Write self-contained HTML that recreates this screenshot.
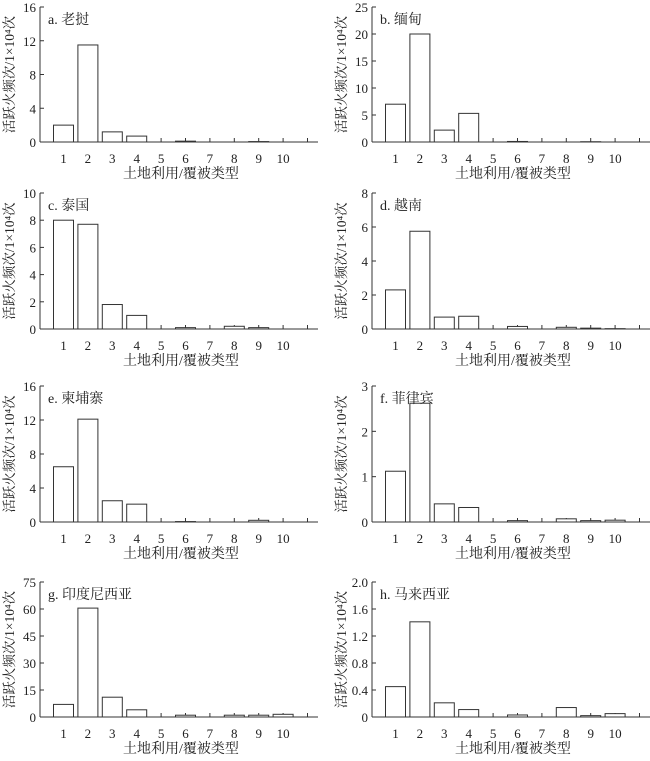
<!DOCTYPE html>
<html><head><meta charset="utf-8"><style>
body{margin:0;background:#fff}
svg text{font-family:"Liberation Serif","Noto Serif CJK SC",serif;fill:#222}
</style></head><body>
<svg id="c" width="650" height="756" xmlns="http://www.w3.org/2000/svg"></svg>
<script>
const categories=["1","2","3","4","5","6","7","8","9","10"];
const titles=["a. 老挝","b. 缅甸","c. 泰国","d. 越南","e. 柬埔寨","f. 菲律宾","g. 印度尼西亚","h. 马来西亚"];
const valsA=[2.0,11.5,1.2,0.7,0,0.1,0,0,0.05,0];
const valsB=[7,20,2.2,5.3,0,0.1,0,0,0.05,0];
const valsC=[8.0,7.7,1.8,1.0,0,0.1,0,0.2,0.1,0];
const valsD=[2.3,5.75,0.7,0.75,0,0.15,0,0.1,0.05,0.02];
const valsE=[6.5,12.1,2.5,2.1,0,0.05,0,0,0.2,0];
const valsF=[1.12,2.62,0.4,0.32,0,0.03,0,0.07,0.03,0.04];
const valsG=[7,60.5,11,4,0,1,0,1,1,1.5];
const valsH=[0.45,1.41,0.21,0.11,0,0.03,0,0.14,0.02,0.05];
const ticksA=["0","4","8","12","16"];
const ticksB=["0","5","10","15","20","25"];
const ticksC=["0","2","4","6","8","10"];
const ticksD=["0","2","4","6","8"];
const ticksE=["0","4","8","12","16"];
const ticksF=["0","1","2","3"];
const ticksG=["0","15","30","45","60","75"];
const ticksH=["0","0.4","0.8","1.2","1.6","2.0"];
const series=[valsA,valsB,valsC,valsD,valsE,valsF,valsG,valsH];
const ticks=[ticksA,ticksB,ticksC,ticksD,ticksE,ticksF,ticksG,ticksH];
const svg=document.getElementById('c');
const NS="http://www.w3.org/2000/svg";
function mk(t,a,txt){const e=document.createElementNS(NS,t);for(const k in a)e.setAttribute(k,a[k]);if(txt!==undefined)e.textContent=txt;svg.appendChild(e);return e;}
const rowsZero=[142,329,522,717],rowsTop=[7,193,386,582];
for(let p=0;p<8;p++){
  const col=p%2,row=Math.floor(p/2);
  const ax=col?372:40,y0=rowsZero[row],yt=rowsTop[row];
  const tk=ticks[p],max=parseFloat(tk[tk.length-1]);
  const yS=v=>y0-(v/max)*(y0-yt);
  const xS=i=>ax+23.5+i*24.4;
  let e;
  e=mk('line',{x1:ax,y1:yt,x2:ax,y2:y0,stroke:'#333','stroke-width':1});
  
  e=mk('line',{x1:ax,y1:y0,x2:ax+278,y2:y0,stroke:'#333','stroke-width':1});
  
  tk.forEach(t=>{const y=yS(parseFloat(t));
    e=mk('line',{x1:ax,y1:y,x2:ax+4,y2:y,stroke:'#333'});
    
    e=mk('text',{x:ax-4,y:y+5,'text-anchor':'end','font-size':13},t);
    });
  for(let i=0;i<=10;i++){const x=xS(i);
    e=mk('line',{x1:x,y1:y0,x2:x,y2:y0-4,stroke:'#333'});
    }
  categories.forEach((c,i)=>{const x=xS(i),v=series[p][i];
    if(v>0){e=mk('rect',{x:x-10,y:yS(v),width:20,height:y0-yS(v),fill:'#fff',stroke:'#333','stroke-width':1});
      }
    e=mk('text',{x:x,y:y0+21,'text-anchor':'middle','font-size':13},c);
    });
  e=mk('text',{x:ax+8,y:yt+17,'font-size':14},titles[p]);
  
  e=mk('text',{x:ax+141,y:y0+36,'text-anchor':'middle','font-size':14},'土地利用/覆被类型');
  
  const tx=ax-26,ty=(y0+yt)/2;
  e=mk('text',{x:tx,y:ty,'text-anchor':'middle','font-size':13.5,transform:`rotate(-90 ${tx} ${ty})`},'活跃火频次/1×10⁴次');
  
}
</script>
</body></html>
